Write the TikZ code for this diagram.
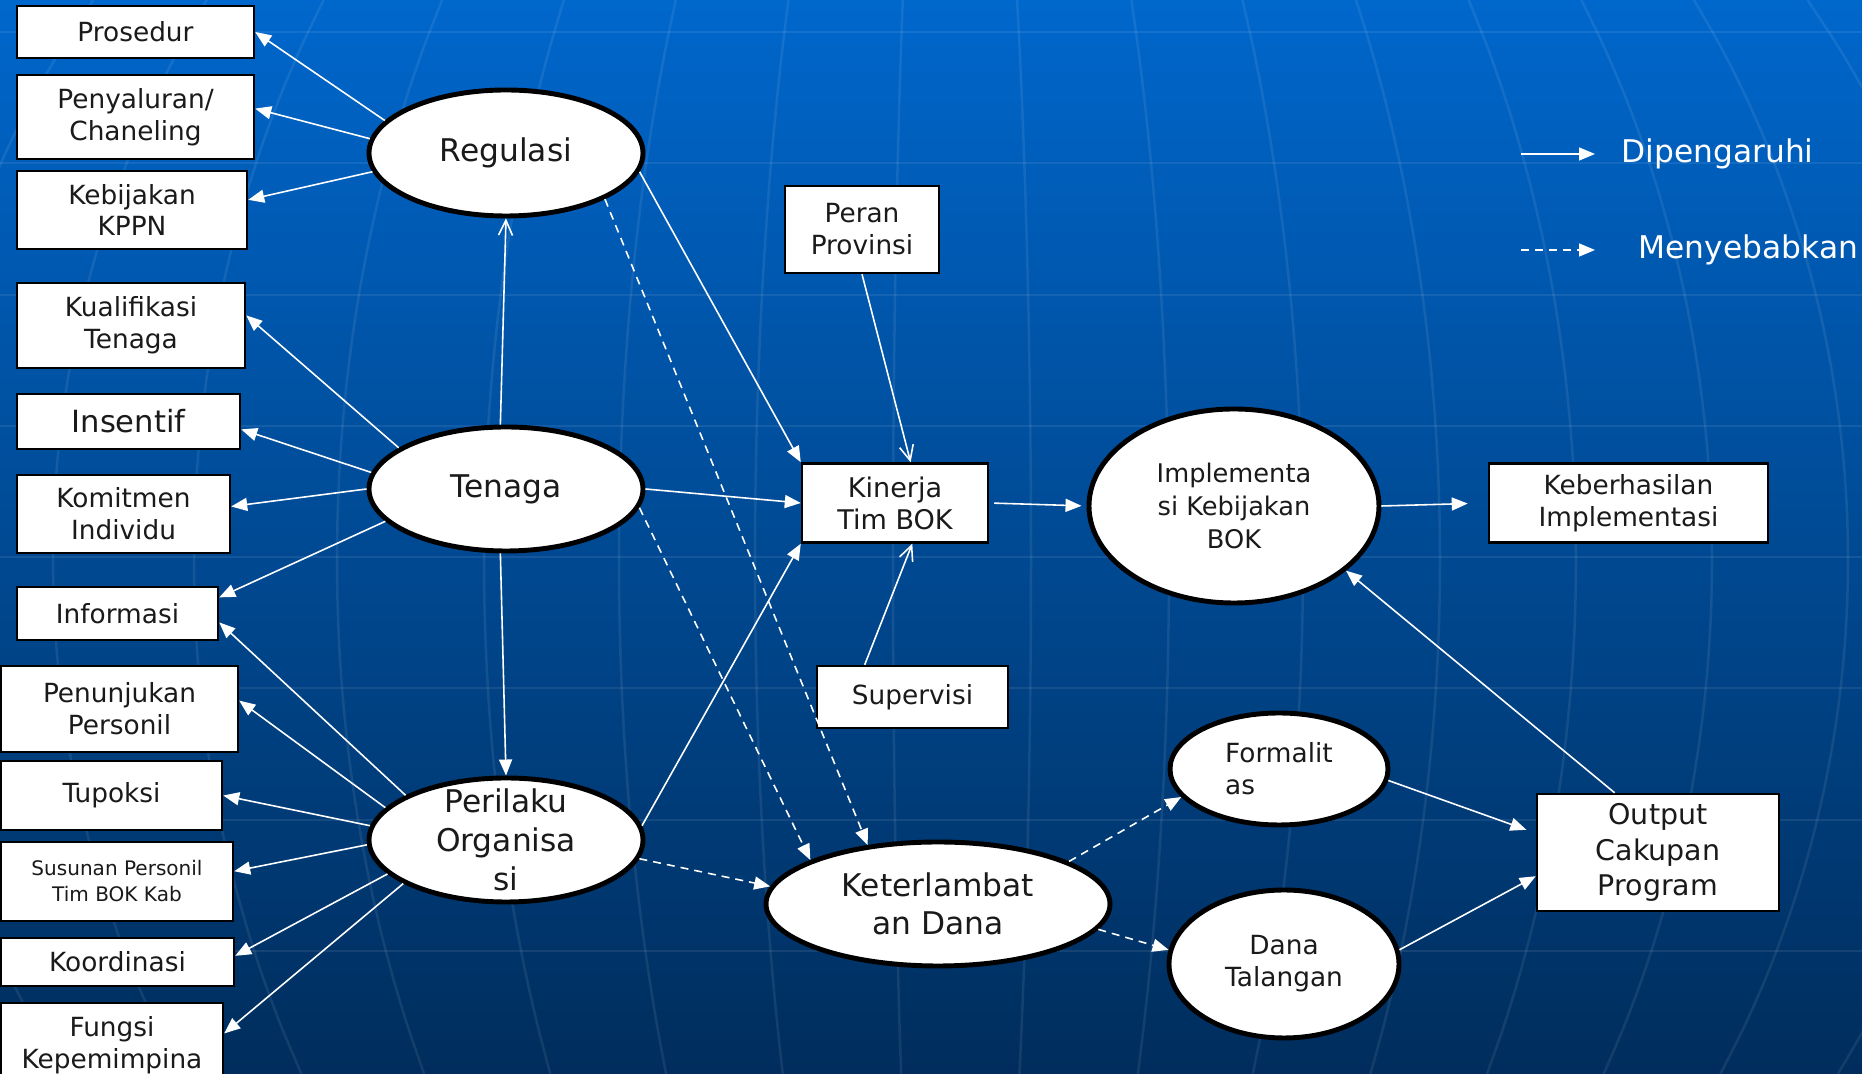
\documentclass[tikz,border=0pt]{standalone}
\usepackage{fontspec}
\setmainfont{DejaVu Sans}
\usepackage{xcolor}
\definecolor{bgtop}{RGB}{0,103,204}
\definecolor{bgmid}{RGB}{0,80,162}
\definecolor{bgbot}{RGB}{0,45,92}
\definecolor{ink}{RGB}{26,26,26}
\usepackage{tikz}
\usetikzlibrary{arrows.meta}
\usetikzlibrary{shapes.geometric}
\newcommand{\kotakfont}{\fontsize{7.5}{9.1}\selectfont}
\newcommand{\elipfont}{\fontsize{8.9}{11}\selectfont}
\begin{document}
\begin{tikzpicture}[x=0.1mm,y=-0.1mm,
    kotak/.style={draw=black,fill=white,line width=0.7pt,text=ink,font=\kotakfont,align=center,inner sep=0pt},
    elip/.style={ellipse,draw=black,fill=white,line width=1.4pt,text=ink,font=\elipfont,align=center,inner sep=0pt},
    pengaruh/.style={white,line width=0.45pt,-{Triangle[length=1.6mm,width=1.3mm]}},
    pengaruhv/.style={white,line width=0.45pt,-{Straight Barb[length=1.5mm,width=1.4mm]}},
    sebab/.style={pengaruh,dash pattern=on 0.8mm off 0.6mm},
    garis/.style={white,opacity=0.08,line width=0.25mm}]
        \useasboundingbox (0,0) rectangle (1862,1074);
        \clip (0,0) rectangle (1862,1074);
        \shade[top color=bgtop,middle color=bgmid,bottom color=bgbot] (0,0) rectangle (1862,1074);
        \foreach \h in {32,163,295,426,557,688,820,951}{\draw[garis] (0,\h) -- (1862,\h);}
        \foreach \m in {-84,53,194,337,484,619,755,893,1031,1169,1303,1440,1576,1712,1848,1985}{
          \draw[garis] plot[domain=0:1074,samples=24,smooth] ({950+(\m-950)*sqrt(1-((\x-560)/1000)^2)},\x);}
        \node[kotak,minimum width=23.7mm,minimum height=5.2mm] (pros) at (135.5,32) {Prosedur};
        \node[kotak,minimum width=23.7mm,minimum height=8.4mm] (peny) at (135.5,117) {Penyaluran/\\Chaneling};
        \node[kotak,minimum width=23mm,minimum height=7.8mm] (kebij) at (132,210) {Kebijakan\\KPPN};
        \node[kotak,minimum width=22.8mm,minimum height=8.5mm] (kual) at (131,325.5) {Kualifikasi\\Tenaga};
        \node[kotak,minimum width=22.3mm,minimum height=5.5mm,font=\fontsize{8.7}{10}\selectfont] (ins) at (128.5,421.5) {Insentif};
        \node[kotak,minimum width=21.3mm,minimum height=7.8mm] (kom) at (123.5,514) {Komitmen\\Individu};
        \node[kotak,minimum width=20.1mm,minimum height=5.3mm] (inf) at (117.5,613.5) {Informasi};
        \node[kotak,minimum width=23.7mm,minimum height=8.6mm] (penun) at (119.5,709) {Penunjukan\\Personil};
        \node[kotak,minimum width=22.1mm,minimum height=6.9mm] (tup) at (111.5,795.5) {Tupoksi};
        \node[kotak,minimum width=23.2mm,minimum height=7.9mm,font=\fontsize{5.7}{7.4}\selectfont] (sus) at (117,881.5) {Susunan Personil\\Tim BOK Kab};
        \node[kotak,minimum width=23.3mm,minimum height=4.8mm] (koor) at (117.5,962) {Koordinasi};
        \node[kotak,minimum width=22.2mm,minimum height=8.4mm,anchor=north] (fung) at (112,1002) {Fungsi\\Kepemimpina};
        \node[elip,minimum width=27.4mm,minimum height=12.6mm] (reg) at (506,153) {Regulasi};
        \node[elip,minimum width=27.4mm,minimum height=12.4mm] (ten) at (506,489) {Tenaga};
        \node[elip,minimum width=27.4mm,minimum height=12.4mm,inner ysep=-4pt] (per) at (506,840) {Perilaku\\Organisa\\si};
        \node[elip,minimum width=34.4mm,minimum height=12.4mm] (ket) at (938,904) {Keterlambat\\an Dana};
        \node[elip,minimum width=29mm,minimum height=19.4mm,font=\fontsize{7.3}{9.3}\selectfont] (impl) at (1234,506) {Implementa\\si Kebijakan\\BOK};
        \node[elip,minimum width=21.8mm,minimum height=11.2mm,font=\kotakfont,align=left] (form) at (1279,769) {Formalit\\as};
        \node[elip,minimum width=23mm,minimum height=14.8mm,font=\kotakfont] (dt) at (1284,964) {Dana\\Talangan};
        \node[kotak,minimum width=15.4mm,minimum height=8.7mm] (peran) at (862,229.5) {Peran\\Provinsi};
        \node[kotak,minimum width=18.6mm,minimum height=7.9mm,font=\fontsize{7.7}{9.1}\selectfont] (kin) at (895,503) {Kinerja\\Tim BOK};
        \node[kotak,minimum width=19.1mm,minimum height=6.2mm] (sup) at (912.5,697) {Supervisi};
        \node[kotak,minimum width=27.9mm,minimum height=7.9mm] (keb) at (1628.5,503) {Keberhasilan\\Implementasi};
        \node[kotak,minimum width=24.2mm,minimum height=11.7mm,font=\fontsize{8.1}{10}\selectfont] (out) at (1658,852.5) {Output\\Cakupan\\Program};
        \draw[pengaruh] (reg.165) -- (pros.east);
        \draw[pengaruh] (reg.174) -- (peny.4);
        \draw[pengaruh] (reg.188) -- (kebij.5);
        \draw[pengaruh] (ten.159) -- (kual.5);
        \draw[pengaruh] (ten.173) -- (ins.-4);
        \draw[pengaruh] (ten.180) -- (kom.4);
        \draw[pengaruh] (ten.195) -- (inf.9);
        \draw[pengaruh] (per.156) -- (inf.-5);
        \draw[pengaruh] (per.165) -- (penun.4);
        \draw[pengaruh] (per.174) -- (tup.east);
        \draw[pengaruh] (per.182) -- (sus.5);
        \draw[pengaruh] (per.196) -- (koor.3);
        \draw[pengaruh] (per.203) -- (fung.6);
        \draw[pengaruhv] (ten.95) -- (reg.south);
        \draw[pengaruh] (ten.265) -- (per.north);
        \draw[pengaruh] (reg.-8) -- (kin.north west);
        \draw[pengaruh] (ten.east) -- (kin.west);
        \draw[pengaruh] (per.6) -- (kin.south west);
        \draw[pengaruhv] (peran.south) -- (kin.69);
        \draw[pengaruhv] (sup.146) -- (kin.-67);
        \draw[pengaruh,shorten <=0.5mm,shorten >=0.5mm] (kin.east) -- (impl.west);
        \draw[pengaruh,shorten >=2mm] (impl.east) -- (keb.west);
        \draw[pengaruh] (out.126) -- (impl.-30);
        \draw[pengaruh,shorten >=1mm] (form.-6) -- (out.171);
        \draw[pengaruh] (dt.7) -- (out.191);
        \draw[sebab] (reg.-25) -- (ket.140);
        \draw[sebab] (ten.-8) -- (ket.161);
        \draw[sebab] (per.-8) -- (ket.174);
        \draw[sebab] (ket.18) -- (form.196);
        \draw[sebab] (ket.-9) -- (dt.173);
        \coordinate (lg1a) at (1521,154);
        \coordinate (lg1b) at (1595,154);
        \coordinate (lg2a) at (1521,250);
        \coordinate (lg2b) at (1595,250);
        \draw[pengaruh] (lg1a) -- (lg1b);
        \draw[sebab] (lg2a) -- (lg2b);
        \node[anchor=west,white,font=\elipfont,inner sep=0pt] (lgt1) at (1621,154) {Dipengaruhi};
        \node[anchor=west,white,font=\elipfont,inner sep=0pt] (lgt2) at (1638,250) {Menyebabkan};
      \end{tikzpicture}
\end{document}
